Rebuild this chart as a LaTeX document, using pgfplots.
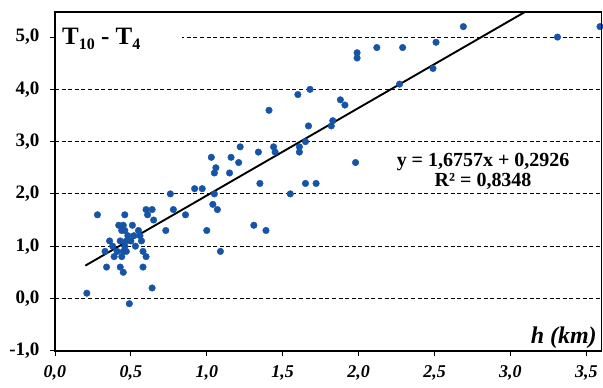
\documentclass[border=0pt]{standalone}
\usepackage{fontspec}
\setmainfont{Liberation Serif}
\usepackage{pgfplots}
\pgfplotsset{compat=1.18}
\definecolor{ptblue}{RGB}{22,84,168}
\begin{document}
\begin{tikzpicture}
\begin{axis}[
  scale only axis,
  width=547pt, height=339pt,
  xmin=0, xmax=3.6, ymin=-1, ymax=5.48,
  xtick={0,0.5,1,1.5,2,2.5,3,3.5},
  ytick={-1,0,1,2,3,4,5},
  xtick pos=bottom, ytick pos=left,
  tick align=outside, major tick length=5pt,
  tick style={black, line width=0.8pt},
  axis line style={black, line width=1.8pt},
  ymajorgrids,
  grid style={black, line width=0.8pt, dash pattern=on 4pt off 2.6pt},
  /pgf/number format/.cd, fixed, fixed zerofill, precision=1, use comma, assume math mode=true,
  /pgfplots/.cd,
  yticklabel style={font=\fontsize{19}{19}\selectfont\bfseries, xshift=-7pt},
  xticklabel style={font=\fontsize{18}{18}\selectfont\bfseries\itshape, yshift=-6pt},
  clip=true,
]
\addplot[only marks, mark=*, mark size=3.3pt, mark options={draw=ptblue, fill=ptblue}] table {
x y
0.21 0.1
0.28 1.6
0.33 0.9
0.34 0.6
0.36 1.1
0.38 1.0
0.39 0.8
0.41 0.9
0.42 1.4
0.43 1.1
0.43 0.6
0.44 0.8
0.45 0.5
0.45 1.4
0.44 1.3
0.46 1.3
0.46 1.6
0.45 0.9
0.46 1.0
0.47 1.1
0.48 1.2
0.47 0.9
0.49 -0.1
0.50 1.1
0.51 1.4
0.52 1.2
0.53 1.0
0.55 1.3
0.56 1.2
0.57 1.1
0.58 0.9
0.58 0.6
0.60 0.8
0.60 1.7
0.61 1.6
0.64 1.7
0.65 1.5
0.64 0.2
0.73 1.3
0.76 2.0
0.78 1.7
0.86 1.6
0.92 2.1
0.97 2.1
1.00 1.3
1.03 2.7
1.04 1.8
1.05 2.0
1.05 2.4
1.06 2.5
1.07 1.7
1.09 0.9
1.15 2.4
1.16 2.7
1.21 2.6
1.22 2.9
1.31 1.4
1.34 2.8
1.35 2.2
1.39 1.3
1.41 3.6
1.44 2.9
1.45 2.8
1.55 2.0
1.60 3.9
1.61 2.9
1.61 2.8
1.65 3.0
1.65 2.2
1.67 3.3
1.68 4.0
1.72 2.2
1.82 3.3
1.83 3.4
1.88 3.8
1.91 3.7
1.98 2.6
1.99 4.6
1.99 4.7
2.12 4.8
2.27 4.1
2.29 4.8
2.49 4.4
2.51 4.9
2.69 5.2
3.31 5.0
3.59 5.2
};
\addplot[black, line width=1.9pt] coordinates {(0.2,0.6277) (3.1072,5.5)};
\fill[white] (axis cs:0.01,4.8) rectangle (axis cs:0.84,5.2);
\node[anchor=base west, inner sep=0pt] at (axis cs:0.046,4.86)
  {\fontsize{25}{25}\selectfont\bfseries T\raisebox{-5pt}{\fontsize{16}{16}\selectfont 10} - T\raisebox{-5pt}{\fontsize{16}{16}\selectfont 4}};
\node[align=center, inner sep=0pt, font=\fontsize{20}{20.5}\selectfont\bfseries] at (axis cs:2.82,2.43)
  {y = 1,6757x + 0,2926\\R² = 0,8348};
\node[anchor=base east, inner sep=0pt, font=\fontsize{24}{24}\selectfont\bfseries\itshape] at (axis cs:3.57,-0.86) {h (km)};
\end{axis}
\draw[black, line width=1.8pt] (current axis.south west) rectangle (current axis.north east);
\pgfresetboundingbox
\path[use as bounding box] ([shift={(-55pt,-37pt)}]current axis.south west) rectangle ([shift={(1.5pt,12pt)}]current axis.north east);
\end{tikzpicture}
\end{document}
